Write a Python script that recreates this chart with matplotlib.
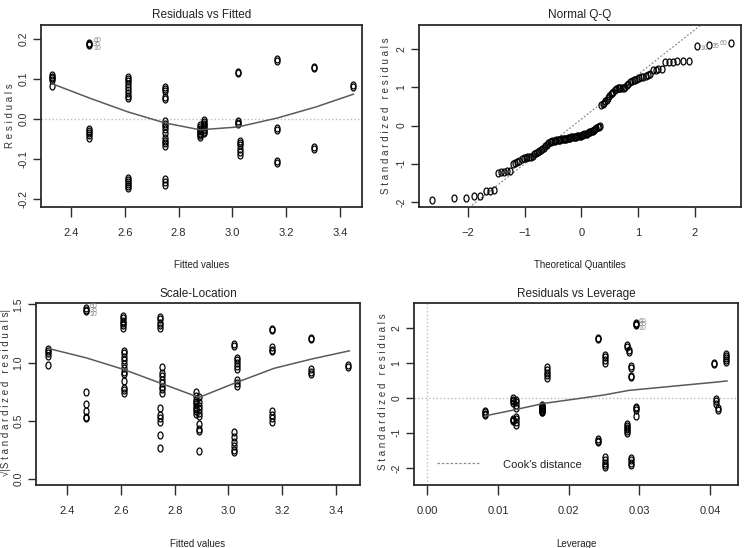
import matplotlib
matplotlib.use("Agg")
import matplotlib.pyplot as plt
import numpy as np
from matplotlib.path import Path
from statistics import NormalDist

NARROW = ["Liberation Sans Narrow", "Liberation Sans", "DejaVu Sans"]
plt.rcParams["font.family"] = NARROW

# ---------------- Residuals vs Fitted ----------------
rvf_fitted = [2.330, 2.468, 2.610, 2.750, 2.880, 2.893, 3.020, 3.030, 3.165, 3.305, 3.448]
rvf_resid = [
    [0.110, 0.106, 0.102, 0.097, 0.083],
    [0.190, 0.187, 0.184, -0.025, -0.030, -0.035, -0.040, -0.048],
    [0.106, 0.100, 0.094, 0.088, 0.080, 0.073, 0.066, 0.058, 0.052,
     -0.148, -0.153, -0.158, -0.163, -0.168, -0.173],
    [0.080, 0.075, 0.070, 0.055, 0.050, -0.005, -0.012, -0.018, -0.024, -0.035,
     -0.048, -0.055, -0.060, -0.068, -0.150, -0.158, -0.166],
    [-0.015, -0.020, -0.025, -0.028, -0.031, -0.034, -0.037, -0.040, -0.045],
    [-0.002, -0.008, -0.012, -0.016, -0.020, -0.024, -0.028, -0.032, -0.036],
    [0.118, 0.114, -0.005, -0.009, -0.013],
    [-0.055, -0.060, -0.066, -0.075, -0.082, -0.089],
    [0.150, 0.146, -0.022, -0.027, -0.104, -0.110],
    [0.131, 0.128, -0.070, -0.075],
    [0.085, 0.081],
]
rvf_smooth_x = [2.33, 2.47, 2.61, 2.75, 2.88, 3.02, 3.17, 3.31, 3.45]
rvf_smooth_y = [0.088, 0.052, 0.018, -0.010, -0.027, -0.020, 0.003, 0.030, 0.062]

# ---------------- Normal Q-Q ----------------
qq_sorted = [
    -1.95, -1.90, -1.90, -1.85, -1.85,
    -1.71, -1.70, -1.69,
    -1.23, -1.22, -1.21, -1.20, -1.18,
    -1.00, -0.98, -0.95, -0.92, -0.88, -0.86, -0.84,
    -0.83, -0.82, -0.81, -0.79, -0.74, -0.71, -0.68,
    -0.66, -0.64, -0.62, -0.58, -0.54, -0.50, -0.46, -0.43, -0.42,
    -0.41, -0.40, -0.40, -0.39, -0.38, -0.38, -0.37, -0.36, -0.36, -0.35,
    -0.34, -0.34, -0.33, -0.33, -0.32, -0.31, -0.31, -0.30, -0.29, -0.29,
    -0.28, -0.27, -0.26, -0.26,
    -0.25, -0.24, -0.23, -0.22, -0.21, -0.20, -0.18, -0.17, -0.15, -0.13,
    -0.11, -0.09, -0.07, -0.05, -0.03, -0.01,
    0.53, 0.56, 0.60, 0.64, 0.68, 0.73, 0.78, 0.82, 0.85, 0.88,
    0.92, 0.96, 0.97, 0.97, 0.97, 0.97, 0.98, 1.02, 1.06, 1.10,
    1.13, 1.16, 1.18, 1.20, 1.22, 1.24, 1.26, 1.28, 1.30, 1.32,
    1.34, 1.45, 1.46, 1.47, 1.48, 1.66, 1.66, 1.67, 1.68, 1.69,
    1.70, 2.08, 2.12, 2.17,
]
qq_line_intercept = 0.17
qq_line_slope = 1.17
qq_labels = ["10", "35", "60"]
stacked_labels = "60\n35\n10"

# ---------------- Scale-Location ----------------
sl_fitted = [2.328, 2.468, 2.606, 2.612, 2.745, 2.752, 2.880, 2.892, 3.022, 3.032, 3.163, 3.306, 3.447]
sl_values = [
    [1.12, 1.10, 1.08, 1.06, 0.98],
    [1.47, 1.45, 1.44, 0.75, 0.64, 0.58, 0.53, 0.52],
    [1.40, 1.38, 1.36, 1.34, 1.32, 1.30],
    [1.10, 1.08, 1.05, 1.02, 0.99, 0.95, 0.92, 0.90, 0.84, 0.78, 0.76, 0.74],
    [1.39, 1.37, 1.34, 1.32, 1.30, 0.61, 0.55, 0.52, 0.49, 0.38, 0.27],
    [0.96, 0.91, 0.88, 0.85, 0.82, 0.79, 0.77, 0.74],
    [0.75, 0.71, 0.68, 0.66, 0.64, 0.62, 0.60, 0.58, 0.56],
    [0.70, 0.66, 0.63, 0.60, 0.57, 0.54, 0.47, 0.43, 0.41, 0.24],
    [1.16, 1.14, 0.40, 0.36, 0.32, 0.28, 0.25, 0.23],
    [1.04, 1.02, 1.00, 0.97, 0.94, 0.85, 0.82, 0.80],
    [1.29, 1.28, 1.13, 1.11, 1.10, 0.58, 0.55, 0.52, 0.49],
    [1.21, 1.20, 0.94, 0.92, 0.90],
    [0.98, 0.96],
]
sl_smooth_x = [2.33, 2.47, 2.61, 2.75, 2.89, 3.02, 3.17, 3.31, 3.45]
sl_smooth_y = [1.12, 1.04, 0.94, 0.82, 0.70, 0.82, 0.95, 1.03, 1.10]

# ---------------- Residuals vs Leverage ----------------
lev_values = [0.0082, 0.0121, 0.0125, 0.0162, 0.0169, 0.0242, 0.0251, 0.0282,
              0.0285, 0.0288, 0.0295, 0.0405, 0.0408, 0.0411, 0.0423]
lev_resid = [
    [-0.38, -0.42, -0.46, -0.50],
    [-0.02, -0.06, -0.10, -0.14, -0.60, -0.63, -0.67],
    [-0.05, -0.12, -0.20, -0.30, -0.55, -0.62, -0.70, -0.78],
    [-0.20, -0.23, -0.26, -0.28, -0.30, -0.32, -0.35, -0.38, -0.40, -0.42],
    [0.88, 0.80, 0.72, 0.64, 0.57],
    [1.70, 1.68, -1.18, -1.22, -1.26],
    [1.22, 1.15, 1.08, 1.00, -1.70, -1.78, -1.86, -1.93, -1.98],
    [1.50, 1.44, -0.76, -0.80, -0.85, -0.90, -0.96, -1.00],
    [1.36, 1.32],
    [0.92, 0.85, 0.62, 0.58, -1.72, -1.78, -1.85, -1.92],
    [2.14, 2.10, 2.08, -0.25, -0.30, -0.36, -0.52],
    [1.00, 0.96],
    [-0.03, -0.10, -0.18],
    [-0.30, -0.36],
    [1.26, 1.20, 1.14, 1.08, 1.01],
]
lev_smooth_x = [0.0081, 0.0122, 0.0165, 0.0208, 0.0250, 0.0285, 0.0405, 0.0424]
lev_smooth_y = [-0.52, -0.35, -0.16, -0.04, 0.08, 0.21, 0.44, 0.48]

# ---------------- drawing ----------------
W, H = 747, 548
fig = plt.figure(figsize=(W / 100, H / 100), dpi=100)

t = np.linspace(0, 2 * np.pi, 41)
ELL = Path(np.column_stack([0.72 * np.cos(t), np.sin(t)]), closed=True)

SMOOTH_C = "#5a5a5a"
GUIDE_C = "#bdbdbd"
LABEL_C = "#8a8a8a"


def fx(px):
    return px / W


def fy(py):
    return 1 - py / H


def make_ax(l, t_, r, b):
    ax = fig.add_axes([fx(l), fy(b), (r - l) / W, (b - t_) / H])
    for s in ax.spines.values():
        s.set_color("#2b2b2b")
        s.set_linewidth(1.3)
    ax.tick_params(axis="x", direction="out", length=7, width=1.0, pad=8,
                   labelsize=8, colors="#2b2b2b")
    ax.tick_params(axis="y", direction="out", length=6, width=1.0, pad=3,
                   labelsize=7.5, colors="#2b2b2b")
    return ax


def pts(ax, xs, ys):
    ax.plot(xs, ys, linestyle="none", marker=ELL, ms=5.0, mfc="none",
            mec="black", mew=0.9)


def groups(ax, xs, groups_):
    for x, g in zip(xs, groups_):
        pts(ax, [x] * len(g), g)


def ytick_labels(ax, ticks, labels):
    ax.set_yticks(ticks)
    ax.set_yticklabels(labels, rotation=90, va="center")


STACK = dict(fontsize=5, color=LABEL_C, va="center", ha="left", linespacing=0.35)

# Panel 1
ax1 = make_ax(41, 25, 362, 207)
ax1.set_xlim(2.288, 3.482)
ax1.set_ylim(-0.22, 0.235)
ax1.axhline(0, color=GUIDE_C, ls=":", lw=1.0)
groups(ax1, rvf_fitted, rvf_resid)
ax1.plot(rvf_smooth_x, rvf_smooth_y, color=SMOOTH_C, lw=1.1)
ax1.set_xticks([2.4, 2.6, 2.8, 3.0, 3.2, 3.4])
ytick_labels(ax1, [-0.2, -0.1, 0.0, 0.1, 0.2], ["-0.2", "-0.1", "0.0", "0.1", "0.2"])
ax1.text(2.482, 0.186, stacked_labels, **STACK)

# Panel 2
ax2 = make_ax(419, 25, 741, 207)
ax2.set_xlim(-2.86, 2.81)
ax2.set_ylim(-2.13, 2.63)
n = len(qq_sorted)
nd = NormalDist()
qq_theo = [nd.inv_cdf((i + 0.5) / n) for i in range(n)]
xl = np.array([-2.86, 2.81])
ax2.plot(xl, qq_line_intercept + qq_line_slope * xl, color="#8c8c8c", ls=(0, (1.5, 1.5)), lw=0.9)
pts(ax2, qq_theo, qq_sorted)
ax2.set_xticks([-2, -1, 0, 1, 2])
ytick_labels(ax2, [-2, -1, 0, 1, 2], ["-2", "-1", "0", "1", "2"])
ax2.text(qq_theo[-3] + 0.06, qq_sorted[-3] - 0.06, qq_labels[0], fontsize=5, color=LABEL_C, va="center", ha="left")
ax2.text(qq_theo[-2] + 0.06, qq_sorted[-2] - 0.06, qq_labels[1], fontsize=5, color=LABEL_C, va="center", ha="left")
ax2.text(qq_theo[-1] - 0.06, qq_sorted[-1] - 0.03, qq_labels[2], fontsize=5, color=LABEL_C, va="center", ha="right")

# Panel 3
ax3 = make_ax(36, 303, 360, 485)
ax3.set_xlim(2.283, 3.49)
ax3.set_ylim(-0.052, 1.511)
groups(ax3, sl_fitted, sl_values)
ax3.plot(sl_smooth_x, sl_smooth_y, color=SMOOTH_C, lw=1.1)
ax3.set_xticks([2.4, 2.6, 2.8, 3.0, 3.2, 3.4])
ytick_labels(ax3, [0.0, 0.5, 1.0, 1.5], ["0.0", "0.5", "1.0", "1.5"])
ax3.text(2.482, 1.445, stacked_labels, **STACK)

# Panel 4
ax4 = make_ax(414, 303, 738, 485)
ax4.set_xlim(-0.00188, 0.04396)
ax4.set_ylim(-2.49, 2.705)
ax4.axhline(0, color=GUIDE_C, ls=":", lw=1.0)
ax4.axvline(0, color=GUIDE_C, ls=":", lw=1.0)
groups(ax4, lev_values, lev_resid)
ax4.plot(lev_smooth_x, lev_smooth_y, color=SMOOTH_C, lw=1.1)
ax4.set_xticks([0.00, 0.01, 0.02, 0.03, 0.04])
ax4.set_xticklabels(["0.00", "0.01", "0.02", "0.03", "0.04"])
ytick_labels(ax4, [-2, -1, 0, 1, 2], ["-2", "-1", "0", "1", "2"])
ax4.text(0.0299, 2.08, stacked_labels, **STACK)
fig.add_artist(plt.Line2D([fx(437), fx(480)], [fy(463), fy(463)], color="#8c8c8c",
                          ls=(0, (2, 1.5)), lw=0.9))
fig.text(fx(503), fy(465), "Cook's distance", fontsize=8, va="center", ha="left", color="#222222")

# Titles and axis labels
TCOL = "#222222"
fig.text(fx(201.5), fy(15), "Residuals vs Fitted", fontsize=8.5, ha="center", va="center", color=TCOL)
fig.text(fx(580), fy(15), "Normal Q-Q", fontsize=8.5, ha="center", va="center", color=TCOL)
fig.text(fx(198), fy(294), "Scale-Location", fontsize=8.5, ha="center", va="center", color=TCOL)
fig.text(fx(576), fy(294), "Residuals vs Leverage", fontsize=8.5, ha="center", va="center", color=TCOL)

fig.text(fx(201.5), fy(265), "Fitted values", fontsize=7, ha="center", va="center", color=TCOL)
fig.text(fx(580), fy(265), "Theoretical Quantiles", fontsize=7, ha="center", va="center", color=TCOL)
fig.text(fx(198), fy(544), "Fitted values", fontsize=7, ha="center", va="center", color=TCOL)
fig.text(fx(576), fy(544), "Leverage", fontsize=7, ha="center", va="center", color=TCOL)

YL = dict(fontsize=7, rotation=90, ha="center", va="center", color="#333333")
fig.text(fx(10), fy(116), "R e s i d u a l s", **YL)
fig.text(fx(386), fy(116), "S t a n d a r d i z e d   r e s i d u a l s", **YL)
fig.text(fx(6), fy(392), "\u221a|S t a n d a r d i z e d   r e s i d u a l s|", **YL)
fig.text(fx(383), fy(392), "S t a n d a r d i z e d   r e s i d u a l s", **YL)

fig.savefig("out.png", dpi=100, facecolor="white")
